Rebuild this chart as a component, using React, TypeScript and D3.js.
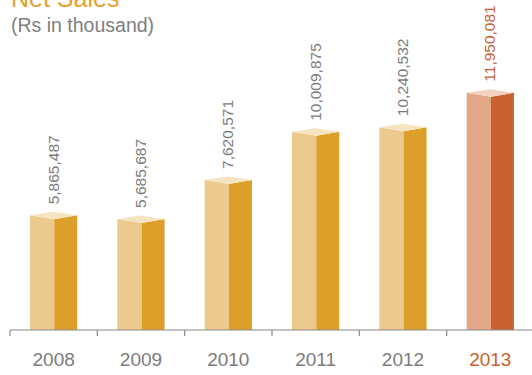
import React from "react";
import * as d3 from "d3";

const years = ["2008", "2009", "2010", "2011", "2012", "2013"];
const sales = [5865487, 5685687, 7620571, 10009875, 10240532, 11950081];
const highlightYear = "2013";

const W = 532;
const H = 375;

export default function App() {
  const x = d3
    .scaleBand<string>()
    .domain(years)
    .range([10, 10 + 6 * 87.33])
    .paddingInner(0)
    .paddingOuter(0);
  const y = d3.scaleLinear().domain([0, 12000000]).range([333.5, 91.7]);
  const base = 330;
  const bw = x.bandwidth();
  const fmt = d3.format(",");

  const normal = { light: "#ecc98d", dark: "#dc9f2a", top: "#f6e3bf", text: "#7c7c7c" };
  const hi = { light: "#e3a887", dark: "#c96231", top: "#f3d3c0", text: "#c9602e" };

  return (
    <svg
      width={W}
      height={H}
      style={{ position: "absolute", left: 0, top: 0, fontFamily: "'Liberation Sans', Arial, sans-serif" }}
    >
      <rect width={W} height={H} fill="#fff" />
      <text x={11} y={7} fontSize={25} fill="#e3a22e">
        Net Sales
      </text>
      <text x={11} y={32} fontSize={19.5} fill="#808080">
        (Rs in thousand)
      </text>

      {years.map((yr, i) => {
        const c = yr === highlightYear ? hi : normal;
        const x0 = x(yr)!;
        const cx = x0 + bw / 2;
        const L = cx - 23.7;
        const M = cx + 0.6;
        const R = cx + 23.6;
        const t = y(sales[i]);
        const Bx = L + R - M;
        return (
          <g key={yr}>
            <polygon
              points={`${L},${t} ${M},${t + 4} ${M},${base} ${L},${base}`}
              fill={c.light}
            />
            <polygon
              points={`${M},${t + 4} ${R},${t} ${R},${base} ${M},${base}`}
              fill={c.dark}
            />
            <polygon
              points={`${L},${t} ${Bx},${t - 3.5} ${R},${t} ${M},${t + 4}`}
              fill={c.top}
            />
            <text
              transform={`translate(${cx + 5},${t - 11}) rotate(-90)`}
              fontSize={15.5}
              fill={c.text}
              textAnchor="start"
            >
              {fmt(sales[i])}
            </text>
          </g>
        );
      })}

      <line x1={10} x2={W} y1={base} y2={base} stroke="#8a8a8a" strokeWidth={1.2} />
      {years.map((yr) => (
        <line
          key={"t" + yr}
          x1={x(yr)!}
          x2={x(yr)!}
          y1={base}
          y2={base + 6}
          stroke="#8a8a8a"
          strokeWidth={1.2}
        />
      ))}
      {years.map((yr) => (
        <text
          key={"l" + yr}
          x={x(yr)! + bw / 2}
          y={365.7}
          fontSize={19}
          textAnchor="middle"
          fill={yr === highlightYear ? hi.text : "#7c7c7c"}
        >
          {yr}
        </text>
      ))}
    </svg>
  );
}
